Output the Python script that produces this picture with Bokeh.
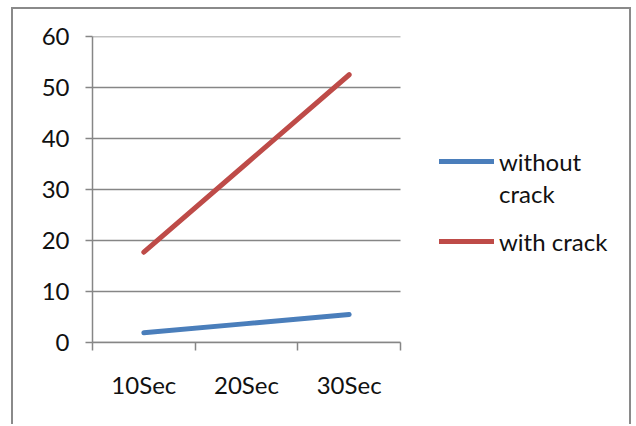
from bokeh.plotting import figure
from bokeh.models import (Range1d, FixedTicker, Legend, LegendItem, ColumnDataSource)
from bokeh.embed import file_html
from bokeh.resources import INLINE

categories = ["10Sec", "20Sec", "30Sec"]
without_crack = [1.9, 3.7, 5.5]
with_crack = [17.7, 35.1, 52.5]
y_ticks = [0, 10, 20, 30, 40, 50, 60]

n = len(categories)
x_pos = [i + 0.5 for i in range(n)]
src = ColumnDataSource(dict(x=x_pos, wo=without_crack, w=with_crack))
grid_src = ColumnDataSource(dict(x0=[0] * len(y_ticks), x1=[n] * len(y_ticks), y=y_ticks))

FONT = "Lato"
GRAY = "#868686"

W, H = 620, 417
LEFT = 79
PLOT_PX = 308          # pixel width of the category area
frame_w = W - LEFT

p = figure(width=W, height=H, output_backend="svg", toolbar_location=None,
           x_range=Range1d(0, n * frame_w / PLOT_PX), y_range=Range1d(0, 60),
           min_border_left=LEFT, min_border_right=0, min_border_top=27, min_border_bottom=84)
p.styles = {"margin-left": "11px", "margin-top": "7px",
            "border-left": "2px solid #8a8a8a", "border-top": "2px solid #8a8a8a",
            "border-right": "2px solid #8a8a8a"}
p.outline_line_color = None
p.background_fill_color = "white"
p.border_fill_color = "white"

p.xgrid.visible = False
p.ygrid.visible = False
p.segment("x0", "y", "x1", "y", source=grid_src, line_color=GRAY, line_width=1.5, level="underlay")

p.yaxis.ticker = FixedTicker(ticks=y_ticks)
p.yaxis.axis_line_color = GRAY
p.yaxis.axis_line_width = 1.5
p.yaxis.major_tick_line_color = GRAY
p.yaxis.major_tick_line_width = 1.5
p.yaxis.major_tick_out = 7
p.yaxis.major_tick_in = 0
p.yaxis.minor_tick_line_color = None
p.yaxis.major_label_standoff = 16
p.yaxis.major_label_text_font = FONT
p.yaxis.major_label_text_font_size = "24px"
p.yaxis.major_label_text_color = "#111111"

p.xaxis.bounds = (0, n)
p.xaxis.ticker = FixedTicker(ticks=x_pos, minor_ticks=list(range(n + 1)))
p.xaxis.major_label_overrides = {x: c for x, c in zip(x_pos, categories)}
p.xaxis.axis_line_color = GRAY
p.xaxis.axis_line_width = 1.5
p.xaxis.major_tick_line_color = None
p.xaxis.major_tick_out = 0
p.xaxis.major_tick_in = 0
p.xaxis.minor_tick_line_color = GRAY
p.xaxis.minor_tick_line_width = 1.5
p.xaxis.minor_tick_out = 8
p.xaxis.minor_tick_in = 0
p.xaxis.major_label_standoff = 19
p.xaxis.major_label_text_font = FONT
p.xaxis.major_label_text_font_size = "24px"
p.xaxis.major_label_text_color = "#111111"

r1 = p.line("x", "wo", source=src, line_color="#4A7EBB", line_width=5, line_cap="round")
r2 = p.line("x", "w", source=src, line_color="#BE4B48", line_width=5, line_cap="round")
r_blank = p.line("x", "wo", source=src, line_alpha=0, line_width=5)

def make_legend(items, loc):
    lg = Legend(items=items, location=loc, border_line_color=None, background_fill_alpha=0,
                padding=0, margin=0, spacing=0, glyph_width=55, glyph_height=32, label_height=32,
                label_standoff=5, label_text_font=FONT, label_text_font_size="24px",
                label_text_color="#111111")
    p.add_layout(lg, "center")

make_legend([LegendItem(label="without", renderers=[r1]),
             LegendItem(label="crack", renderers=[r_blank])], (347, 133))
make_legend([LegendItem(label="with crack", renderers=[r2])], (347, 85))

open("out.html", "w").write(file_html(p, INLINE))
